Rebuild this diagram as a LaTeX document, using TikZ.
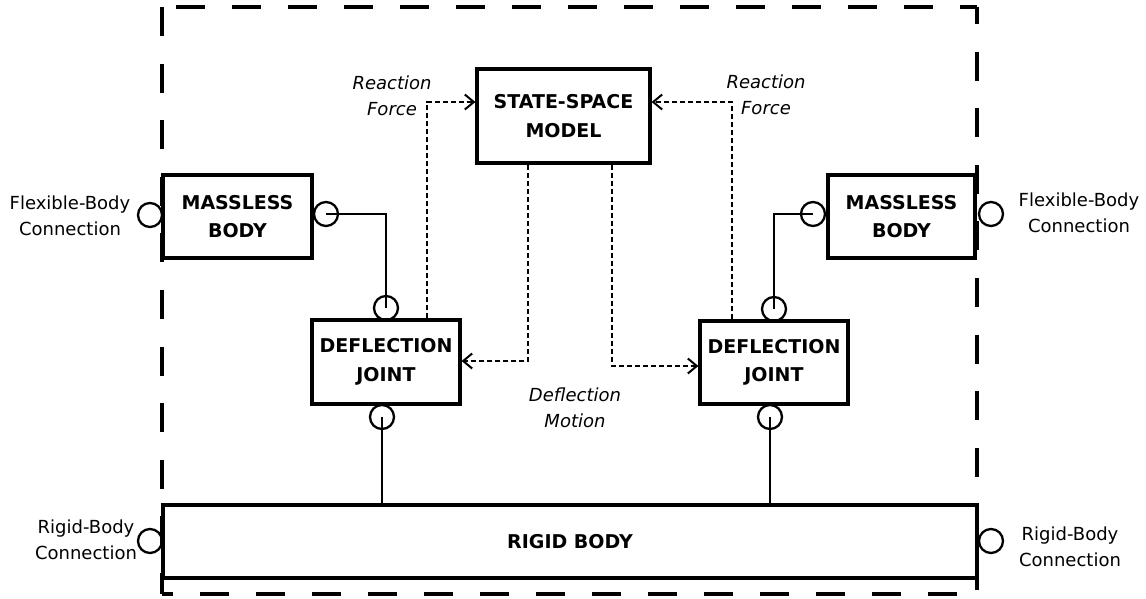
\documentclass[tikz,border=0pt]{standalone}
\usepackage{fontspec}
\setmainfont{DejaVu Sans}
\usetikzlibrary{arrows.meta}
\begin{document}
\begin{tikzpicture}[x=1pt,y=-1pt,
  box/.style={draw, line width=3.2pt, inner sep=0pt, align=center,
    font=\fontsize{19}{28.5}\selectfont\bfseries},
  lbl/.style={align=center, inner sep=0pt, font=\fontsize{18}{26}\selectfont},
  ilbl/.style={align=center, inner sep=0pt, font=\fontsize{18}{26}\selectfont\itshape},
  port/.style={draw, circle, line width=2.3pt, minimum size=24pt, inner sep=0pt},
  wire/.style={line width=2pt},
  sig/.style={line width=2.2pt, dash pattern=on 5pt off 3pt,
    -{Straight Barb[length=9pt,width=15pt,line width=2pt]}},
  frame/.style={line width=3.5pt}]
\useasboundingbox (0,0) rectangle (1146,598);

% outer dashed frame
\draw[frame, dash pattern=on 29pt off 27pt, dash phase=42pt] (162,7) -- (977,7);
\draw[frame, dash pattern=on 29pt off 27.6pt] (162,7) -- (162,594);
\draw[frame, dash pattern=on 29pt off 27.6pt, dash phase=12pt] (977,7) -- (977,594);
\draw[frame, dash pattern=on 29pt off 27pt, dash phase=18pt] (162,594) -- (977,594);

% boxes
\node[box, minimum width=149pt, minimum height=83pt] (mbl) at (237.5,216.5) {MASSLESS\\BODY};
\node[box, minimum width=147pt, minimum height=83pt] (mbr) at (901.5,216.5) {MASSLESS\\BODY};
\node[box, minimum width=173pt, minimum height=94pt] (ss) at (563.5,116) {STATE-SPACE\\MODEL};
\node[box, minimum width=148pt, minimum height=84pt] (djl) at (386,362) {DEFLECTION\\JOINT};
\node[box, minimum width=148pt, minimum height=83pt] (djr) at (774,362.5) {DEFLECTION\\JOINT};
\node[box, minimum width=814pt, minimum height=73pt] (rb) at (570,541.5) {RIGID BODY};

% ports
\node[port] (pml1) at (150,215) {};
\node[port] (pml2) at (326,214) {};
\node[port] (pmr1) at (813,214) {};
\node[port] (pmr2) at (991,214) {};
\node[port] (pjlt) at (386,308) {};
\node[port] (pjlb) at (382,417) {};
\node[port] (pjrt) at (774,309) {};
\node[port] (pjrb) at (770,417) {};
\node[port] (prl) at (150,541) {};
\node[port] (prr) at (991,541) {};

% solid wires
\draw[wire] (pml2.center) -| (pjlt.center);
\draw[wire] (pmr1.center) -| (pjrt.center);
\draw[wire] (pjlb.center) -- (pjlb.center |- rb.north);
\draw[wire] (pjrb.center) -- (pjrb.center |- rb.north);

% signal connectors
\coordinate (rfl) at (427,102);
\coordinate (rfr) at (732,102);
\coordinate (dml) at (528,361);
\coordinate (dmr) at (612,366);
\draw[sig] (rfl |- djl.north) |- (ss.west |- rfl);
\draw[sig] (rfr |- djr.north) |- (ss.east |- rfr);
\draw[sig] (dml |- ss.south) |- (djl.east |- dml);
\draw[sig] (dmr |- ss.south) |- (djr.west |- dmr);

% labels
\node[ilbl] (rl) at (392,96) {Reaction\\Force};
\node[ilbl] (rr) at (766,95) {Reaction\\Force};
\node[ilbl] (dm) at (575,407.5) {Deflection\\Motion};
\node[lbl] (fl) at (70,215.5) {Flexible-Body\\Connection};
\node[lbl] (fr) at (1079,212.5) {Flexible-Body\\Connection};
\node[lbl] (rgl) at (86,540) {Rigid-Body\\Connection};
\node[lbl] (rgr) at (1070,547) {Rigid-Body\\Connection};
\end{tikzpicture}
\end{document}
